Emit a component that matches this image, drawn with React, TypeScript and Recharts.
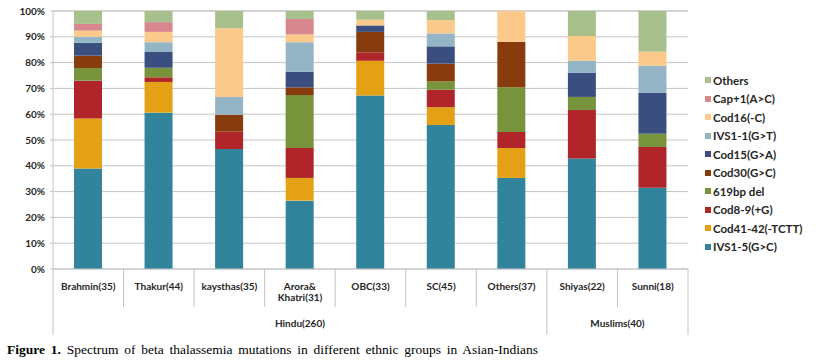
import React from "react";
import { Bar, BarChart, CartesianGrid, XAxis, YAxis } from "recharts";

// Categories (ethnic groups) and their parent groups
const CATEGORIES = [
	"Brahmin(35)",
	"Thakur(44)",
	"kaysthas(35)",
	"Arora&\nKhatri(31)",
	"OBC(33)",
	"SC(45)",
	"Others(37)",
	"Shiyas(22)",
	"Sunni(18)",
];
const GROUP_NAMES = ["Hindu(260)", "Muslims(40)"];
const GROUP_SPANS = [7, 2];

const Y_TICKS = [0, 10, 20, 30, 40, 50, 60, 70, 80, 90, 100];

// Series (bottom to top), percent of each group
const SERIES_NAMES = [
	"IVS1-5(G>C)",
	"Cod41-42(-TCTT)",
	"Cod8-9(+G)",
	"619bp del",
	"Cod30(G>C)",
	"Cod15(G>A)",
	"IVS1-1(G>T)",
	"Cod16(-C)",
	"Cap+1(A>C)",
	"Others",
];
const IVS1_5 = [39.0, 60.6, 46.5, 26.5, 67.2, 55.8, 35.3, 42.8, 31.5];
const COD41_42 = [19.3, 11.9, 0, 8.8, 13.5, 6.9, 11.6, 0, 0];
const COD8_9 = [14.7, 1.8, 6.7, 11.6, 3.3, 6.8, 6.2, 18.8, 15.8];
const DEL619 = [4.9, 3.7, 0, 20.5, 0, 3.2, 17.3, 5.1, 5.1];
const COD30 = [4.8, 0, 6.6, 3.0, 7.9, 6.9, 17.6, 0, 0];
const COD15 = [5.0, 6.1, 0, 6.0, 2.5, 6.7, 0, 9.3, 15.9];
const IVS1_1 = [2.3, 3.8, 6.9, 11.5, 0, 5.0, 0, 4.7, 10.5];
const COD16 = [2.4, 4.0, 26.6, 3.0, 2.2, 5.2, 12.0, 9.6, 5.4];
const CAP1 = [2.6, 3.8, 0, 6.0, 0, 0, 0, 0, 0];
const OTHERS = [5.0, 4.3, 6.7, 3.1, 3.4, 3.5, 0, 9.7, 15.8];

const SERIES_VALUES = [IVS1_5, COD41_42, COD8_9, DEL619, COD30, COD15, IVS1_1, COD16, CAP1, OTHERS];

const COLORS = [
	"#31849B",
	"#E5A115",
	"#B0252A",
	"#77933C",
	"#883C0E",
	"#3A4E80",
	"#93B5C6",
	"#FBC98A",
	"#D9878F",
	"#A8C08C",
];

const data = CATEGORIES.map((name, i) => {
	const row: Record<string, string | number> = { name };
	SERIES_NAMES.forEach((s, k) => {
		row[s] = SERIES_VALUES[k][i];
	});
	return row;
});

// layout
const W = 816;
const H = 340;
const PLOT_LEFT = 53;
const PLOT_RIGHT = 688;
const PLOT_BOTTOM = 269;
const BAND = (PLOT_RIGHT - PLOT_LEFT) / CATEGORIES.length;
const FONT = "Lato, 'Open Sans', sans-serif";
const TEXT = "#262626";
const GRID = "#C4C4C4";

function isGroupEdge(i: number): boolean {
	let acc = 0;
	if (i === 0) return true;
	for (const span of GROUP_SPANS) {
		acc += span;
		if (acc === i) return true;
	}
	return false;
}

function CategoryTick(props: any) {
	const { payload, index } = props;
	const cx: number = payload.coordinate;
	const left = cx - BAND / 2;
	const right = cx + BAND / 2;
	const lines = String(payload.value).split("\n");

	// group label if this is the first category of a group
	let groupLabel: React.ReactNode = null;
	let start = 0;
	GROUP_SPANS.forEach((span, g) => {
		if (index === start) {
			const gx = left + (span * BAND) / 2;
			groupLabel = (
				<text x={gx} y={327} textAnchor="middle" fontSize={10} fontWeight="bold" fill={TEXT} fontFamily={FONT}>
					{GROUP_NAMES[g]}
				</text>
			);
		}
		start += span;
	});

	return (
		<g>
			<line x1={left} x2={left} y1={PLOT_BOTTOM} y2={isGroupEdge(index) ? 335 : 307} stroke={GRID} />
			{index === CATEGORIES.length - 1 && <line x1={right} x2={right} y1={PLOT_BOTTOM} y2={335} stroke={GRID} />}
			{lines.map((t, k) => (
				<text
					key={t}
					x={cx}
					y={290 + k * 11}
					textAnchor="middle"
					fontSize={10}
					fontWeight="bold"
					fill={TEXT}
					fontFamily={FONT}
				>
					{t}
				</text>
			))}
			{groupLabel}
		</g>
	);
}

export default function App(): React.JSX.Element {
	return (
		<div style={styles.page}>
			<BarChart
				width={W}
				height={H}
				data={data}
				margin={{ top: 11, right: W - PLOT_RIGHT, bottom: 0, left: 8 }}
				barSize={28}
			>
				<CartesianGrid vertical={false} stroke={GRID} />
				<XAxis
					dataKey="name"
					height={H - PLOT_BOTTOM}
					interval={0}
					tickLine={false}
					axisLine={{ stroke: GRID }}
					tick={<CategoryTick />}
				/>
				<YAxis
					width={PLOT_LEFT - 8}
					domain={[0, 100]}
					ticks={Y_TICKS}
					tickFormatter={(v: number) => `${v}%`}
					tickSize={3}
					tickMargin={5}
					axisLine={{ stroke: GRID }}
					tickLine={{ stroke: GRID }}
					tick={{ fontSize: 10, fontWeight: "bold", fill: TEXT, fontFamily: FONT }}
				/>
				{SERIES_NAMES.map((s, k) => (
					<Bar key={s} dataKey={s} stackId="a" fill={COLORS[k]} isAnimationActive={false} />
				))}
			</BarChart>

			{/* legend, top entry is the last series */}
			<div style={styles.legend}>
				{SERIES_NAMES.map((s, k) => ({ s, k }))
					.reverse()
					.map(({ s, k }) => (
						<div key={s} style={styles.legendItem}>
							<span style={{ ...styles.swatch, backgroundColor: COLORS[k] }} />
							<span>{s}</span>
						</div>
					))}
			</div>

			<div style={styles.caption}>
				<b>Figure 1.</b> Spectrum of beta thalassemia mutations in different ethnic groups in Asian-Indians
			</div>
		</div>
	);
}

const styles = {
	page: {
		position: "absolute",
		left: 0,
		top: 0,
		width: `${W}px`,
		height: "362px",
		backgroundColor: "#fff",
	},
	legend: {
		position: "absolute",
		left: "705px",
		top: "71px",
		fontFamily: FONT,
		fontWeight: "bold",
		fontSize: "11.5px",
		color: TEXT,
	},
	legendItem: {
		display: "flex",
		alignItems: "center",
		height: "18.5px",
		whiteSpace: "nowrap",
	},
	swatch: {
		display: "inline-block",
		width: "6px",
		height: "6px",
		marginRight: "2px",
	},
	caption: {
		position: "absolute",
		left: "7px",
		top: "342px",
		fontFamily: "'Liberation Serif', 'Times New Roman', serif",
		fontSize: "13.5px",
		color: "#000",
		whiteSpace: "nowrap",
		wordSpacing: "2.4px",
	},
} satisfies Record<string, React.CSSProperties>;
